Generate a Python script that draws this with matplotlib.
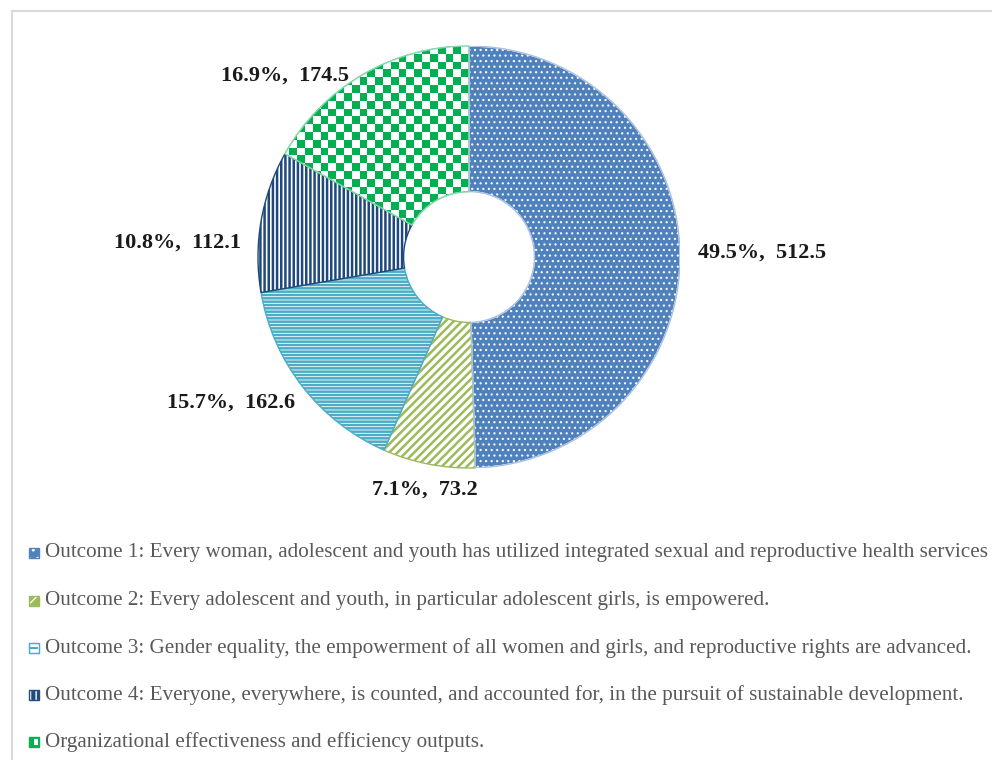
import matplotlib
matplotlib.use("Agg")
import matplotlib.pyplot as plt
import numpy as np
from matplotlib.patches import Rectangle, Wedge
from matplotlib.colors import ListedColormap

categories = [
    "Outcome 1: Every woman, adolescent and youth has utilized integrated sexual and reproductive health services",
    "Outcome 2: Every adolescent and youth, in particular adolescent girls, is empowered.",
    "Outcome 3: Gender equality, the empowerment of all women and girls, and reproductive rights are advanced.",
    "Outcome 4: Everyone, everywhere, is counted, and accounted for, in the pursuit of sustainable development.",
    "Organizational effectiveness and efficiency outputs.",
]
values = [512.5, 73.2, 162.6, 112.1, 174.5]

colors = ["#4F81BD", "#9BBB59", "#4BACC6", "#1F497D", "#00B050"]
W, H = 992, 760
fig = plt.figure(figsize=(W / 100, H / 100), dpi=100)
fig.patch.set_facecolor("white")

# chart frame
fig.add_artist(Rectangle((12 / W, -0.1), 1.2, (H - 11) / H + 0.1, transform=fig.transFigure,
                         fill=False, edgecolor="#D9D9D9", linewidth=1.5))

cx, cy, R = 469, 257, 211
ax = fig.add_axes([(cx - R) / W, (H - cy - R) / H, 2 * R / W, 2 * R / H])
wedges, _ = ax.pie(values, radius=1, startangle=90, counterclock=False,
                   wedgeprops=dict(width=0.69, linewidth=1.0))
ax.set_aspect("equal")
ax.axis("off")

styles = [
    dict(face=colors[0], edge="white", hatch="...", hlw=0.8),
    dict(face="white", edge=colors[1], hatch="////", hlw=1.8),
    dict(face="white", edge=colors[2], hatch="-----", hlw=1.8),
    dict(face="white", edge=colors[3], hatch="||||", hlw=1.8),
    dict(face="white", edge="#7FD8A7", hatch=None, hlw=1.0),
]
for w, st in zip(wedges, styles):
    w.set_facecolor(st["face"])
    w.set_edgecolor(st["edge"])
    if st["hatch"]:
        w.set_hatch(st["hatch"])
    try:
        w.set_hatch_linewidth(st["hlw"])
    except Exception:
        w._hatch_linewidth = st["hlw"]

# checkerboard texture for last wedge
n = 54
chk = (np.add.outer(np.arange(n), np.arange(n)) % 2).astype(float)
im = ax.imshow(chk, cmap=ListedColormap(["white", colors[4]]), extent=(-1, 1, -1, 1),
               interpolation="nearest", zorder=wedges[4].get_zorder() + 0.1)
im.set_clip_path(wedges[4])
ax.set_xlim(-1, 1)
ax.set_ylim(-1, 1)

w4 = wedges[4]
ax.add_patch(Wedge(w4.center, w4.r, w4.theta1, w4.theta2, width=w4.width, fill=False,
                   edgecolor="#7FD8A7", linewidth=1.0, zorder=5))
w0 = wedges[0]
ax.add_patch(Wedge(w0.center, w0.r, w0.theta1, w0.theta2, width=w0.width, fill=False,
                   edgecolor="#A9C0E0", linewidth=1.0, zorder=5))

total = sum(values)
label_xy = [(1.39, 0.02), (-0.21, -1.10), (-1.13, -0.69), (-1.38, 0.07), (-0.87, 0.86)]
for v, (lx, ly) in zip(values, label_xy):
    ax.text(lx, ly, f"{v / total * 100:.1f}%,  {v}", ha="center", va="center",
            fontsize=16, fontweight="bold", family="Liberation Serif", color="#1a1a1a")

# legend
row_y = [553, 601, 648, 695, 742]
leg_face = [colors[0], colors[1], "white", colors[3], colors[4]]
leg_edge = ["white", "white", colors[2], "white", "white"]
leg_hatch = ["..", "//", "-", "|||", None]
for i, (lab, yy) in enumerate(zip(categories, row_y)):
    r = Rectangle((29 / W, (H - yy - 5) / H), 10 / W, 10 / H, transform=fig.transFigure,
                  facecolor=leg_face[i], edgecolor=leg_edge[i], hatch=leg_hatch[i], linewidth=0.8)
    fig.add_artist(r)
    fig.add_artist(Rectangle((29 / W, (H - yy - 5) / H), 10 / W, 10 / H, transform=fig.transFigure,
                             fill=False, edgecolor=colors[i], linewidth=1.0))
    if i == 2:
        fig.add_artist(Rectangle((30 / W, (H - yy - 0.5) / H), 8 / W, 1.2 / H, transform=fig.transFigure,
                                 facecolor=colors[2], edgecolor="none"))
    if i == 4:
        fig.add_artist(Rectangle((34 / W, (H - yy - 3) / H), 3.5 / W, 6 / H, transform=fig.transFigure,
                                 facecolor="white", edgecolor="none"))
    fig.text(45 / W, (H - yy) / H, lab, ha="left", va="center", fontsize=15.25,
             family="Liberation Serif", color="#595959")

fig.savefig("out.png", dpi=100)
